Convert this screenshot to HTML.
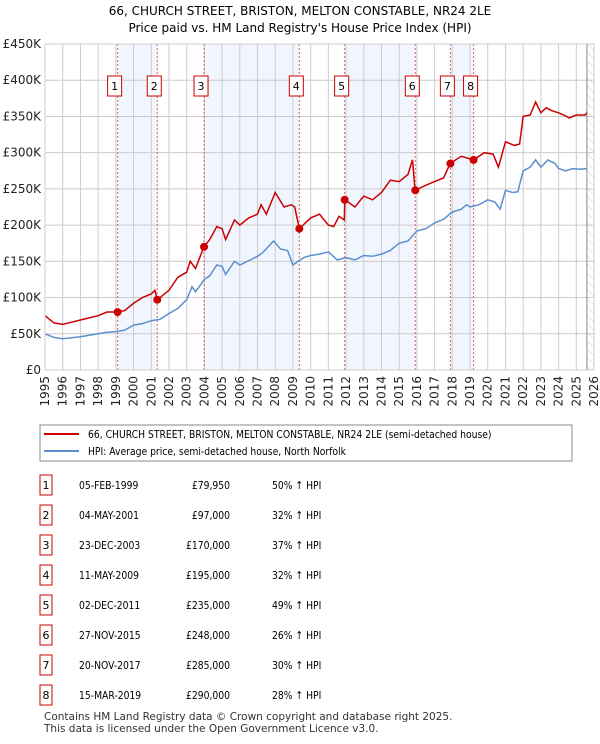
<!DOCTYPE html>
<html><head><meta charset="utf-8"><style>
body{margin:0;background:#fff;width:600px;height:740px;overflow:hidden;font-family:"DejaVu Sans","Liberation Sans",sans-serif;}
svg text{font-family:"DejaVu Sans","Liberation Sans",sans-serif;}
</style></head><body>
<svg id="c" width="600" height="740" xmlns="http://www.w3.org/2000/svg"></svg>
<script>
const yTicks=[0,50,100,150,200,250,300,350,400,450];
const years=[1995,1996,1997,1998,1999,2000,2001,2002,2003,2004,2005,2006,2007,2008,2009,2010,2011,2012,2013,2014,2015,2016,2017,2018,2019,2020,2021,2022,2023,2024,2025,2026];
const hpiT=[1995,1995.5,1996,1997,1998,1998.5,1999,1999.5,2000,2000.5,2001,2001.5,2002,2002.5,2003,2003.3,2003.5,2004,2004.3,2004.7,2005,2005.2,2005.7,2006,2007,2007.3,2007.9,2008.3,2008.7,2009,2009.3,2009.6,2010,2010.5,2011,2011.5,2012,2012.5,2013,2013.5,2014,2014.5,2015,2015.5,2016,2016.5,2017,2017.5,2018,2018.5,2018.8,2019,2019.5,2020,2020.4,2020.7,2021,2021.4,2021.7,2022,2022.4,2022.7,2023,2023.4,2023.8,2024,2024.4,2024.8,2025.2,2025.6];
const hpiV=[50,45,43,46,50,52,53,55,62,64,68,70,78,85,97,115,108,125,130,145,143,132,150,145,157,162,178,167,165,145,150,155,158,160,163,152,155,152,158,157,160,165,175,178,192,195,203,208,218,222,228,225,228,235,232,222,248,245,246,275,280,290,280,290,285,278,275,278,277,278];
const redT=[1995,1995.5,1996,1996.5,1997,1998,1998.5,1999.1,1999.5,2000,2000.5,2001,2001.2,2001.35,2002,2002.5,2003,2003.2,2003.5,2003.97,2004.3,2004.7,2005,2005.2,2005.7,2006,2006.5,2007,2007.2,2007.5,2008,2008.5,2008.9,2009.1,2009.36,2010,2010.5,2011,2011.3,2011.6,2011.9,2011.93,2012.5,2013,2013.5,2014,2014.5,2015,2015.5,2015.75,2015.9,2016.5,2017,2017.5,2017.88,2018.5,2019.2,2019.8,2020.3,2020.6,2021,2021.5,2021.8,2022,2022.4,2022.7,2023,2023.3,2023.6,2024,2024.3,2024.6,2025,2025.5,2025.6];
const redV=[75,65,63,66,69,75,80,80,82,92,100,105,110,97,110,128,135,150,140,170,180,198,195,180,207,200,210,215,228,215,245,225,228,225,195,210,215,200,198,212,207,235,225,240,235,245,262,260,270,290,248,255,260,265,285,295,290,300,298,280,315,310,312,350,352,370,355,362,358,355,352,348,352,352,355];
const salesT=[1999.1,2001.34,2003.98,2009.36,2011.92,2015.91,2017.89,2019.2];
const salesV=[79.95,97,170,195,235,248,285,290];
const salesLbl=["1","2","3","4","5","6","7","8"];
const salesDate=["05-FEB-1999","04-MAY-2001","23-DEC-2003","11-MAY-2009","02-DEC-2011","27-NOV-2015","20-NOV-2017","15-MAR-2019"];
const salesPrice=["£79,950","£97,000","£170,000","£195,000","£235,000","£248,000","£285,000","£290,000"];
const salesPct=["50%","32%","37%","32%","49%","26%","30%","28%"];

const L=45,R=594,T=44,B=370;
const X=t=>L+(t-1995)*(R-L)/31;
const Y=v=>B-v*(B-T)/450;
const svg=document.getElementById('c');
const NS='http://www.w3.org/2000/svg';
function mk(tag,attrs,parent){const e=document.createElementNS(NS,tag);for(const k in attrs)e.setAttribute(k,attrs[k]);(parent||svg).appendChild(e);return e;}
function txt(s,attrs,parent){const e=mk('text',attrs,parent);e.textContent=s;return e;}
function ntxt(s,x,y,anchor,parent){return txt(s,{x:0,y:0,'text-anchor':anchor,'font-size':11,transform:`translate(${x},${y}) scale(0.84,1)`},parent);}

const title1=txt("66, CHURCH STREET, BRISTON, MELTON CONSTABLE, NR24 2LE",{x:300,y:15,'text-anchor':'middle','font-size':12});


const title2=txt("Price paid vs. HM Land Registry's House Price Index (HPI)",{x:300,y:32,'text-anchor':'middle','font-size':12});



for(let i=0;i<8;i+=2){
  const b=mk('rect',{x:X(salesT[i]),y:T,width:X(salesT[i+1])-X(salesT[i]),height:B-T,fill:'#eef3fc',opacity:0.8});
  
  
}
const defs=mk('defs',{});
const pat=mk('pattern',{id:'h',width:6,height:6,patternUnits:'userSpaceOnUse',patternTransform:'rotate(-45)'},defs);
mk('line',{x1:0,y1:0,x2:0,y2:6,stroke:'#ccc','stroke-width':1},pat);
const hr=mk('rect',{x:X(2025.6),y:T,width:R-X(2025.6),height:B-T,fill:'url(#h)'});


yTicks.forEach(v=>{
  const g=mk('line',{x1:L,x2:R,y1:Y(v),y2:Y(v),stroke:'#ccc','stroke-width':1});
  
  
  const t=txt(v===0?'£0':'£'+v+'K',{x:L-4,y:Y(v)+4,'text-anchor':'end','font-size':12,fill:'#222'});
  
  
});
years.forEach(yr=>{
  const g=mk('line',{x1:X(yr),x2:X(yr),y1:T,y2:B,stroke:'#ccc','stroke-width':1});
  
  
  const t=txt(String(yr),{x:0,y:0,'text-anchor':'end','font-size':12,fill:'#222',transform:`translate(${X(yr)+4},${B+6}) rotate(-90)`});
  
  
});
mk('line',{x1:X(2025.6),x2:X(2025.6),y1:T,y2:B,stroke:'#888','stroke-width':1});
salesT.forEach((t,i)=>{
  const l=mk('line',{x1:X(t),x2:X(t),y1:T,y2:B,stroke:'#e06060','stroke-width':1,'stroke-dasharray':'2,2'});
  
  
  const g=mk('g',{});
  
  
  mk('rect',{x:X(t)-10,y:76,width:14,height:20,fill:'#fff',stroke:'#cc0000','stroke-width':1},g);
  txt(salesLbl[i],{x:X(t)-3,y:90,'text-anchor':'middle','font-size':11},g);
});
function path(ts,vs,col,name){
  const d=ts.map((t,i)=>(i?'L':'M')+X(t).toFixed(1)+','+Y(vs[i]).toFixed(1)).join('');
  const p=mk('path',{d:d,fill:'none',stroke:col,'stroke-width':1.5});
  
  
}
path(hpiT,hpiV,'#5b8fd0','hpi-line');
path(redT,redV,'#cc0000','price-paid-line');
salesT.forEach((t,i)=>{
  const c=mk('circle',{cx:X(t),cy:Y(salesV[i]),r:4,fill:'#cc0000'});
  
  
});
mk('rect',{x:L,y:T,width:R-L,height:B-T,fill:'none',stroke:'#ccc'});

const lg=mk('g',{});


mk('rect',{x:40,y:425,width:532,height:36,fill:'#fff',stroke:'#888'},lg);
mk('line',{x1:44,x2:79,y1:434,y2:434,stroke:'#cc0000','stroke-width':2},lg);
ntxt("66, CHURCH STREET, BRISTON, MELTON CONSTABLE, NR24 2LE (semi-detached house)",88,438,'start',lg);
mk('line',{x1:44,x2:79,y1:451,y2:451,stroke:'#5b8fd0','stroke-width':2},lg);
ntxt("HPI: Average price, semi-detached house, North Norfolk",88,455,'start',lg);

salesT.forEach((t,i)=>{
  const y=485+i*30;
  const g=mk('g',{});
  
  
  mk('rect',{x:40,y:y-10,width:12,height:20,fill:'#fff',stroke:'#cc0000'},g);
  txt(salesLbl[i],{x:46,y:y+4,'text-anchor':'middle','font-size':11},g);
  ntxt(salesDate[i],79,y+4,'start',g);
  ntxt(salesPrice[i],230,y+4,'end',g);
  ntxt(salesPct[i]+' ↑ HPI',272,y+4,'start',g);
});
const f1=txt("Contains HM Land Registry data © Crown copyright and database right 2025.",{x:44,y:720,'font-size':10.5,fill:'#333'});


const f2=txt("This data is licensed under the Open Government Licence v3.0.",{x:44,y:732,'font-size':10.5,fill:'#333'});


</script>
</body></html>
